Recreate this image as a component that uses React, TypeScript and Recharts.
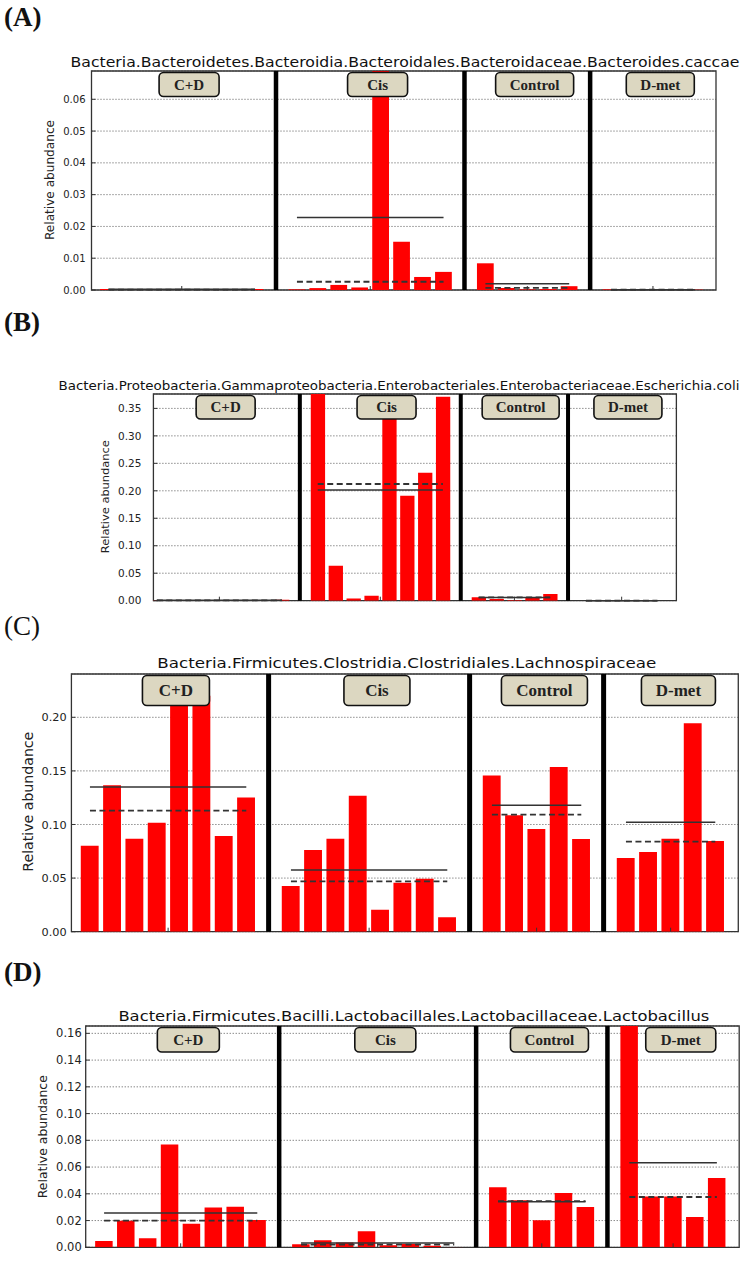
import { BarChart, Bar, XAxis, YAxis, CartesianGrid, ReferenceLine, ReferenceArea, ReferenceDot } from 'recharts'

const groups = ['C+D', 'Cis', 'Control', 'D-met']

// (A) Bacteroides caccae
const caccaeCD = [0.0003, 0.0001, 0.0001, 0.0001, 0.0001, 0.0001, 0.0001, 0.0003]
const caccaeCis = [0.0002, 0.0006, 0.0016, 0.0008, 0.154, 0.0152, 0.0041, 0.0057]
const caccaeControl = [0.0084, 0.0006, 0.0002, 0.0003, 0.0012]
const caccaeDmet = [0.0002, 0.0001, 0.0001, 0.0001, 0.0001]
const caccaeMean = [0.0002, 0.0228, 0.002, 0.0001]
const caccaeMedian = [0.0001, 0.0026, 0.0007, 0.0001]
const caccaeTicks = [0, 0.01, 0.02, 0.03, 0.04, 0.05, 0.06]

// (B) Escherichia coli
const coliCD = [0.0012, 0.0008, 0.0005, 0.0006, 0.0004, 0.0005, 0.0007, 0.0015]
const coliCis = [0.408, 0.0637, 0.0042, 0.0091, 0.332, 0.191, 0.233, 0.371]
const coliControl = [0.0061, 0.003, 0.0012, 0.0067, 0.0121]
const coliDmet = [0, 0, 0, 0, 0]
const coliMean = [0.0008, 0.2015, 0.0058, 0]
const coliMedian = [0.0006, 0.2124, 0.0061, 0]
const coliTicks = [0, 0.05, 0.1, 0.15, 0.2, 0.25, 0.3, 0.35]

// (C) Lachnospiraceae
const lachnoCD = [0.0802, 0.1365, 0.0868, 0.1017, 0.238, 0.22, 0.0893, 0.1253]
const lachnoCis = [0.0426, 0.0762, 0.0868, 0.1269, 0.0205, 0.0457, 0.0495, 0.0134]
const lachnoControl = [0.1456, 0.1086, 0.0958, 0.1537, 0.0865]
const lachnoDmet = [0.0687, 0.0743, 0.0868, 0.1944, 0.0846]
const lachnoMean = [0.135, 0.0575, 0.1179, 0.102]
const lachnoMedian = [0.1129, 0.047, 0.1092, 0.084]
const lachnoTicks = [0, 0.05, 0.1, 0.15, 0.2]

// (D) Lactobacillus
const lactoCD = [0.0047, 0.0199, 0.0067, 0.0768, 0.0177, 0.0297, 0.0304, 0.0204]
const lactoCis = [0.0022, 0.0052, 0.0035, 0.012, 0.0015, 0.0025, 0.0012, 0.0002]
const lactoControl = [0.0449, 0.0351, 0.0202, 0.0406, 0.0302]
const lactoDmet = [0.166, 0.0379, 0.0379, 0.0227, 0.0518]
const lactoMean = [0.0257, 0.0032, 0.0341, 0.0633]
const lactoMedian = [0.0199, 0.002, 0.0346, 0.0376]
const lactoTicks = [0, 0.02, 0.04, 0.06, 0.08, 0.1, 0.12, 0.14, 0.16]

type Layout = {
  left: number
  right: number
  top: number
  bottom: number
  xMin: number
  xMax: number
  yTop: number
  tickFont: number
  tickGap: number
  sepW: number
  boxH: number
  boxFont: number
  boxW: number[]
  letter: { text: string; y: number; bold: boolean }
  title: { x: number; y: number; size: number; len: number }
  ylabel: { x: number; y: number; size: number; len: number }
}

type Panel = {
  title: string
  values: number[][]
  means: number[]
  medians: number[]
  ticks: number[]
  layout: Layout
}

const panels: Panel[] = [
  {
    title: 'Bacteria.Bacteroidetes.Bacteroidia.Bacteroidales.Bacteroidaceae.Bacteroides.caccae',
    values: [caccaeCD, caccaeCis, caccaeControl, caccaeDmet],
    means: caccaeMean,
    medians: caccaeMedian,
    ticks: caccaeTicks,
    layout: {
      left: 91.5, right: 716, top: 71, bottom: 290, xMin: -0.41, xMax: 29.41, yTop: 0.0689,
      tickFont: 10, tickGap: 6, sepW: 4.5, boxH: 24, boxFont: 15, boxW: [60, 60, 78, 68],
      letter: { text: '(A)', y: 26, bold: true },
      title: { x: 405, y: 66.5, size: 14, len: 669 },
      ylabel: { x: 50, y: 180, size: 12, len: 120 },
    },
  },
  {
    title: 'Bacteria.Proteobacteria.Gammaproteobacteria.Enterobacteriales.Enterobacteriaceae.Escherichia.coli',
    values: [coliCD, coliCis, coliControl, coliDmet],
    means: coliMean,
    medians: coliMedian,
    ticks: coliTicks,
    layout: {
      left: 153.4, right: 676.4, top: 394.3, bottom: 601, xMin: 0.21, xMax: 29.46, yTop: 0.3762,
      tickFont: 10.5, tickGap: 12, sepW: 4, boxH: 23.5, boxFont: 15, boxW: [59, 59, 77, 68],
      letter: { text: '(B)', y: 331, bold: true },
      title: { x: 399, y: 389.5, size: 12, len: 681 },
      ylabel: { x: 105.7, y: 496.7, size: 11.3, len: 113 },
    },
  },
  {
    title: 'Bacteria.Firmicutes.Clostridia.Clostridiales.Lachnospiraceae',
    values: [lachnoCD, lachnoCis, lachnoControl, lachnoDmet],
    means: lachnoMean,
    medians: lachnoMedian,
    ticks: lachnoTicks,
    layout: {
      left: 71.4, right: 738.3, top: 674, bottom: 931.7, xMin: -0.43, xMax: 29.43, yTop: 0.2404,
      tickFont: 11.3, tickGap: 4.7, sepW: 5, boxH: 30, boxFont: 17, boxW: [67, 66, 86, 74],
      letter: { text: '(C)', y: 634.5, bold: false },
      title: { x: 406.8, y: 668, size: 14.5, len: 499 },
      ylabel: { x: 28, y: 801.7, size: 14, len: 140 },
    },
  },
  {
    title: 'Bacteria.Firmicutes.Bacilli.Lactobacillales.Lactobacillaceae.Lactobacillus',
    values: [lactoCD, lactoCis, lactoControl, lactoDmet],
    means: lactoMean,
    medians: lactoMedian,
    ticks: lactoTicks,
    layout: {
      left: 85.7, right: 739.2, top: 1026, bottom: 1247.3, xMin: -0.44, xMax: 29.42, yTop: 0.1655,
      tickFont: 11.5, tickGap: 4, sepW: 4.5, boxH: 24.5, boxFont: 15, boxW: [62, 61, 78, 70],
      letter: { text: '(D)', y: 981, bold: true },
      title: { x: 413.9, y: 1021, size: 14.5, len: 591 },
      ylabel: { x: 42.9, y: 1136.7, size: 12.3, len: 123 },
    },
  },
]

// old matplotlib bars: left edge on the slot index, width 0.8, one empty slot between groups
function buildRows(values: number[][]) {
  const rows: { x: number; v: number }[] = []
  const spans: { start: number; end: number }[] = []
  let slot = 0
  values.forEach((vals) => {
    const start = slot
    vals.forEach((v) => {
      rows.push({ x: slot + 0.4, v })
      slot += 1
    })
    spans.push({ start, end: slot - 1 })
    slot += 1
  })
  return { rows, spans }
}

function GroupBox({ cx, cy, label, w, h, font }: any) {
  if (cx == null || cy == null) return null
  return (
    <g>
      <rect x={cx - w / 2} y={cy + 1.5} width={w} height={h} rx={4.5} fill="#dcd7c1" stroke="#111" strokeWidth={1.6} />
      <text
        x={cx}
        y={cy + 1.5 + h / 2}
        textAnchor="middle"
        dominantBaseline="central"
        fontFamily="'Liberation Serif', 'Times New Roman', serif"
        fontWeight="bold"
        fontSize={font}
        fill="#222"
      >
        {label}
      </text>
    </g>
  )
}

function PanelChart({ panel }: { panel: Panel }) {
  const L = panel.layout
  const { rows, spans } = buildRows(panel.values)
  const plotH = L.bottom - L.top
  const chartH = plotH + 10
  const barSize = (0.8 * (L.right - L.left)) / (L.xMax - L.xMin)

  return (
    <div style={{ position: 'absolute', left: 0, top: L.top - 4 }}>
      <BarChart width={744} height={chartH} data={rows} margin={{ top: 4, right: 744 - L.right, bottom: 4, left: 0 }}>
        <CartesianGrid vertical={false} stroke="#555" strokeDasharray="1 2" />
        <XAxis
          type="number"
          dataKey="x"
          domain={[L.xMin, L.xMax]}
          allowDataOverflow
          ticks={spans.map((s) => (s.start + s.end) / 2 + 0.4)}
          tickFormatter={() => ''}
          tickSize={-4}
          axisLine={false}
          height={2}
          stroke="#333"
        />
        <YAxis
          type="number"
          domain={[0, L.yTop]}
          allowDataOverflow
          ticks={panel.ticks}
          tickFormatter={(v: number) => v.toFixed(2)}
          tickSize={-4}
          tickMargin={4 + L.tickGap}
          axisLine={false}
          width={L.left}
          stroke="#333"
          tick={{ fontSize: L.tickFont, fill: '#222', fontFamily: "'DejaVu Sans', sans-serif" }}
        />
        <Bar dataKey="v" fill="#ff0000" barSize={barSize} isAnimationActive={false} />
        {spans.slice(1).map((s, i) => (
          <ReferenceLine key={'sep' + i} x={s.start - 0.6} stroke="#000" strokeWidth={L.sepW} />
        ))}
        {spans.map((s, i) => (
          <ReferenceLine
            key={'mean' + i}
            segment={[
              { x: s.start + 0.4, y: panel.means[i] },
              { x: s.end + 0.4, y: panel.means[i] },
            ]}
            stroke="#333"
            strokeWidth={1.5}
            ifOverflow="visible"
          />
        ))}
        {spans.map((s, i) => (
          <ReferenceLine
            key={'med' + i}
            segment={[
              { x: s.start + 0.4, y: panel.medians[i] },
              { x: s.end + 0.4, y: panel.medians[i] },
            ]}
            stroke="#333"
            strokeWidth={1.8}
            strokeDasharray="6 3.5"
            ifOverflow="visible"
          />
        ))}
        {spans.map((s, i) => (
          <ReferenceDot
            key={'box' + i}
            x={(s.start + s.end) / 2 + 0.4 + 0.35}
            y={L.yTop}
            r={0}
            ifOverflow="visible"
            shape={(props: any) => (
              <GroupBox cx={props.cx} cy={props.cy} label={groups[i]} w={L.boxW[i]} h={L.boxH} font={L.boxFont} />
            )}
          />
        ))}
        <ReferenceArea x1={L.xMin} x2={L.xMax} y1={0} y2={L.yTop} fill="none" stroke="#333" strokeWidth={1.3} ifOverflow="visible" />
      </BarChart>
    </div>
  )
}

export default function App() {
  return (
    <div style={{ position: 'absolute', left: 0, top: 0, width: 744, height: 1262, background: '#fff' }}>
      {panels.map((p) => (
        <PanelChart key={p.title} panel={p} />
      ))}
      <svg width={744} height={1262} style={{ position: 'absolute', left: 0, top: 0, pointerEvents: 'none' }}>
        {panels.map((p) => {
          const L = p.layout
          return (
            <g key={p.title}>
              <text
                x={4}
                y={L.letter.y}
                fontFamily="'Liberation Serif', 'Times New Roman', serif"
                fontWeight={L.letter.bold ? 'bold' : 'normal'}
                fontSize={27}
                fill="#111"
              >
                {L.letter.text}
              </text>
              <text
                x={L.title.x}
                y={L.title.y}
                textAnchor="middle"
                fontFamily="'DejaVu Sans', sans-serif"
                fontSize={L.title.size}
                textLength={L.title.len}
                lengthAdjust="spacingAndGlyphs"
                fill="#111"
              >
                {p.title}
              </text>
              <text
                transform={`translate(${L.ylabel.x},${L.ylabel.y}) rotate(-90)`}
                textAnchor="middle"
                dominantBaseline="central"
                fontFamily="'DejaVu Sans', sans-serif"
                fontSize={L.ylabel.size}
                textLength={L.ylabel.len}
                lengthAdjust="spacingAndGlyphs"
                fill="#222"
              >
                Relative abundance
              </text>
            </g>
          )
        })}
      </svg>
    </div>
  )
}
